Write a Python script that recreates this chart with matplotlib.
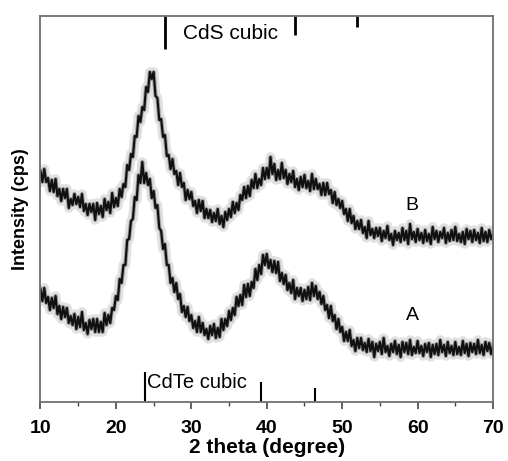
import numpy as np
import matplotlib
matplotlib.use("Agg")
import matplotlib.pyplot as plt
from matplotlib.ticker import MultipleLocator

plt.rcParams['font.family'] = ['Liberation Sans', 'DejaVu Sans']

# 2-theta grid (degrees), 0.25 deg step from 10 to 70
two_theta = np.arange(10.0, 70.001, 0.25)

# Sample B (upper trace), arbitrary intensity units
intensity_B = [
    231,220,233,220,224,211,222,210,223,206,
    213,201,213,204,213,194,203,197,208,198,
    205,195,208,191,198,187,198,190,198,182,
    199,188,196,185,203,192,200,189,209,195,
    204,196,213,205,218,215,237,232,248,245,
    266,265,286,280,295,292,315,310,330,323,
    330,306,304,282,283,265,267,246,247,233,
    243,228,231,217,229,215,219,202,212,203,
    210,196,201,189,202,191,201,184,193,184,
    192,180,189,181,193,178,186,175,190,182,
    193,185,200,189,199,192,207,202,215,204,
    216,206,222,214,228,214,223,217,234,223,
    234,224,245,228,238,222,232,223,239,224,
    232,218,228,220,231,215,223,212,225,215,
    227,214,221,211,228,213,223,213,218,207,
    219,207,219,208,212,199,210,197,203,194,
    201,188,193,181,193,179,186,173,181,173,
    182,169,175,164,181,167,173,164,174,166,
    174,161,171,164,176,162,168,157,171,162,
    169,160,174,162,171,158,178,163,170,160,
    173,162,169,159,172,161,168,158,175,163,
    171,160,170,164,174,159,169,161,172,162,
    175,161,168,160,170,158,173,163,171,160,
    172,162,169,159,174,161,170,160,172,163,
    168,
]

# Sample A (lower trace)
intensity_A = [
    113,101,114,99,105,92,104,94,106,88,
    96,83,95,85,94,79,86,77,88,73,
    85,75,90,72,79,68,82,73,83,70,
    83,70,80,70,89,77,87,79,94,92,
    106,102,123,119,137,137,162,163,181,183,
    205,202,227,219,240,219,229,217,223,204,
    211,194,197,174,171,153,158,137,137,119,
    124,110,119,103,108,90,96,85,95,81,
    87,74,81,70,85,70,79,67,73,63,
    76,67,78,64,74,65,83,72,83,76,
    91,82,94,87,105,96,107,97,117,105,
    118,106,120,114,133,122,137,128,147,137,
    148,134,142,130,141,129,140,121,129,118,
    127,112,119,109,122,103,114,106,114,101,
    112,103,115,102,119,106,116,103,110,98,
    106,92,97,84,96,81,87,73,83,70,
    75,61,70,61,72,56,62,51,64,54,
    64,52,59,50,63,51,60,45,58,51,
    60,48,64,50,56,46,58,50,61,48,
    57,45,60,50,59,48,62,47,55,49,
    61,49,56,46,58,50,59,45,57,48,
    58,47,62,50,57,46,60,49,56,47,
    60,48,55,47,61,49,58,46,59,50,
    58,48,62,49,57,47,60,51,59,48,
    56,
]

# Reference line positions (2-theta) and relative stick heights
cds_positions = [26.5, 43.8, 51.9]
cds_heights = [33, 19, 11]
cdte_positions = [23.9, 39.3, 46.4]
cdte_heights = [30, 20, 14]

Y_TOP = 386

fig = plt.figure(figsize=(5.08, 4.61), dpi=100)
ax = fig.add_axes([0.0797, 0.128, 0.8908, 0.8373])

for series in (intensity_B, intensity_A):
    ax.plot(two_theta, series, color='#7a7a7a', lw=7.0, alpha=0.22)
    ax.plot(two_theta, series, color='#555555', lw=3.0, alpha=0.45)
    ax.plot(two_theta, series, color='#111111', lw=1.6)

# CdS cubic sticks hanging from the top
for p, h in zip(cds_positions, cds_heights):
    ax.plot([p, p], [Y_TOP, Y_TOP - h], color='black', lw=2.0, solid_capstyle='butt')
# CdTe cubic sticks rising from the bottom
for p, h in zip(cdte_positions, cdte_heights):
    ax.plot([p, p], [0, h], color='black', lw=1.5, solid_capstyle='butt')

ax.text(28.9, 368, 'CdS cubic', fontsize=15, va='center', ha='left')
ax.text(24.1, 19, 'CdTe cubic', fontsize=14.5, va='center', ha='left')
ax.text(59.3, 196, 'B', fontsize=14, va='center', ha='center')
ax.text(59.3, 86, 'A', fontsize=14, va='center', ha='center')

ax.set_xlim(10, 70)
ax.set_ylim(0, Y_TOP)
ax.xaxis.set_major_locator(MultipleLocator(10))
ax.xaxis.set_minor_locator(MultipleLocator(5))
ax.set_yticks([])
ax.tick_params(axis='x', which='major', direction='out', length=5, width=1.2,
               colors='#444444', labelcolor='black', labelsize=14, pad=8)
ax.tick_params(axis='x', which='minor', direction='out', length=3, width=1.0,
               colors='#444444')
for lbl in ax.get_xticklabels():
    lbl.set_fontweight('bold')

for s in ax.spines.values():
    s.set_color('#707070')
    s.set_linewidth(1.3)

ax.set_xlabel('2 theta (degree)', fontsize=15, fontweight='bold', labelpad=1)
ax.set_ylabel('Intensity (cps)', fontsize=13, fontweight='bold', labelpad=8)

fig.savefig('out.png', dpi=100)
